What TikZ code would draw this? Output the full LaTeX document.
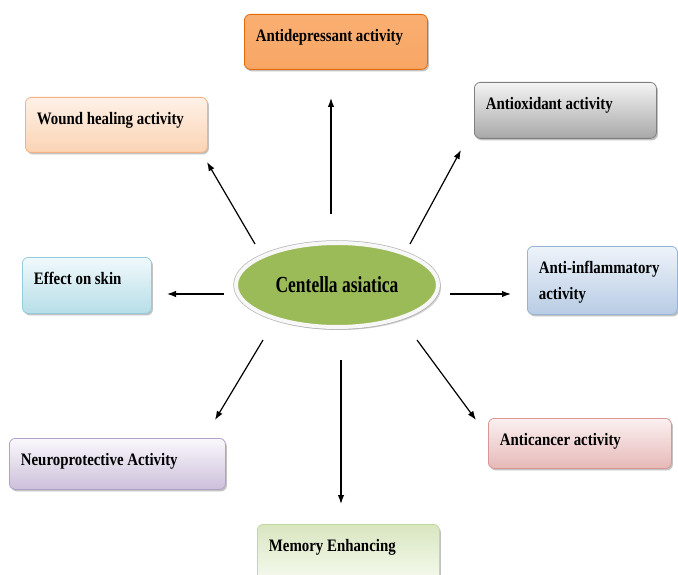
\documentclass[tikz,border=0pt]{standalone}
\usepackage{fontspec}
\setmainfont{Liberation Serif}[FakeStretch=0.85]
\newfontfamily\centrefont{Liberation Serif}[FakeStretch=0.76]
\usetikzlibrary{shapes.geometric,shadows,arrows.meta}

\definecolor{plant}{HTML}{9BBB59}
\definecolor{orangeA}{HTML}{F9AF72}
\definecolor{orangeB}{HTML}{F68A33}
\definecolor{orangeC}{HTML}{F8A665}
\definecolor{orangeL}{HTML}{E36C09}
\definecolor{peachA}{HTML}{FEF1E8}
\definecolor{peachB}{HTML}{FBD4B4}
\definecolor{peachL}{HTML}{F4B183}
\definecolor{greyA}{HTML}{F4F4F4}
\definecolor{greyB}{HTML}{A8A8A8}
\definecolor{greyL}{HTML}{7F7F7F}
\definecolor{skyA}{HTML}{F1F9FB}
\definecolor{skyB}{HTML}{B7DEE8}
\definecolor{skyL}{HTML}{93CDDD}
\definecolor{steelA}{HTML}{EEF3FA}
\definecolor{steelB}{HTML}{B8CCE4}
\definecolor{steelL}{HTML}{95B3D7}
\definecolor{lilacA}{HTML}{FAF8FC}
\definecolor{lilacB}{HTML}{CCC0DA}
\definecolor{lilacL}{HTML}{B2A1C7}
\definecolor{leafA}{HTML}{D9E6C0}
\definecolor{leafB}{HTML}{F6FAEF}
\definecolor{leafL}{HTML}{C3D69B}
\definecolor{roseA}{HTML}{FBF0F0}
\definecolor{roseB}{HTML}{E6B9B8}
\definecolor{roseL}{HTML}{D99694}

\begin{document}
\begin{tikzpicture}[x=1pt, y=-1pt,
  every node/.style={font=\fontsize{17.5}{26}\selectfont\bfseries},
  effect/.style={draw=#1, line width=0.8pt, rounded corners=6pt, anchor=north west, align=left,
    inner xsep=11.5pt, inner ysep=0pt, text height=27pt,
    execute at begin node={\spaceskip=0.21em plus 0.1em\relax},
    drop shadow={shadow xshift=1.5pt, shadow yshift=-2pt, fill=black!40, opacity=.6}},
  link/.style={-{Latex[length=9pt,width=6.5pt]}, line width=1.2pt}]
  \useasboundingbox (0,0) rectangle (678,575);

  % centre
  \node (ca) [ellipse, fill=plant, minimum width=202pt, minimum height=84pt, inner sep=0pt,
    preaction={draw=gray!55, line width=5.5pt}, draw=white!94!gray, line width=4pt,
    drop shadow={shadow xshift=3pt, shadow yshift=-3pt, fill=black!35, opacity=.5},
    font=\centrefont\fontsize{23}{26}\selectfont\bfseries] at (337,285) {Centella asiatica};

  % effects
  \node (ad) [effect=orangeL, top color=orangeA, middle color=orangeB, bottom color=orangeC,
    text width=160pt, text depth=28pt] at (244,14) {Antidepressant activity};
  \node (wh) [effect=peachL, top color=peachA, bottom color=peachB,
    text width=159pt, text depth=28pt] at (25,97) {Wound healing activity};
  \node (ao) [effect=greyL, top color=greyA, bottom color=greyB,
    text width=159pt, text depth=29pt] at (474,82) {Antioxidant activity};
  \node (sk) [effect=skyL, top color=skyA, bottom color=skyB,
    text width=106pt, text depth=29pt] at (22,257) {Effect on skin};
  \node (ai) [effect=steelL, top color=steelA, bottom color=steelB,
    text width=127pt, text depth=41pt] at (527,246) {Anti-inflammatory\\activity};
  \node (np) [effect=lilacL, top color=lilacA, bottom color=lilacB,
    text width=193pt, text depth=24pt] at (9,438) {Neuroprotective Activity};
  \node (me) [effect=leafL, top color=leafA, bottom color=leafB,
    text width=159pt, text depth=30pt] at (257,524) {Memory Enhancing};
  \node (ac) [effect=roseL, top color=roseA, bottom color=roseB,
    text width=160pt, text depth=23pt] at (488,418) {Anticancer activity};

  % arrow ends
  \coordinate (ad-t) at (331,214);
  \coordinate (ad-h) at (331,98);
  \coordinate (wh-t) at (255,244);
  \coordinate (wh-h) at (207,162);
  \coordinate (ao-t) at (410,244);
  \coordinate (ao-h) at (461,150);
  \coordinate (sk-t) at (224,294);
  \coordinate (sk-h) at (167,294);
  \coordinate (ai-t) at (450,294);
  \coordinate (ai-h) at (511,294);
  \coordinate (np-t) at (263,340);
  \coordinate (np-h) at (215,420);
  \coordinate (me-t) at (341,360);
  \coordinate (me-h) at (341,504);
  \coordinate (ac-t) at (417,340);
  \coordinate (ac-h) at (476,420);

  \foreach \e in {ad,wh,ao,sk,ai,np,me,ac}
    \draw[link] (\e-t) -- (\e-h);
\end{tikzpicture}
\end{document}
